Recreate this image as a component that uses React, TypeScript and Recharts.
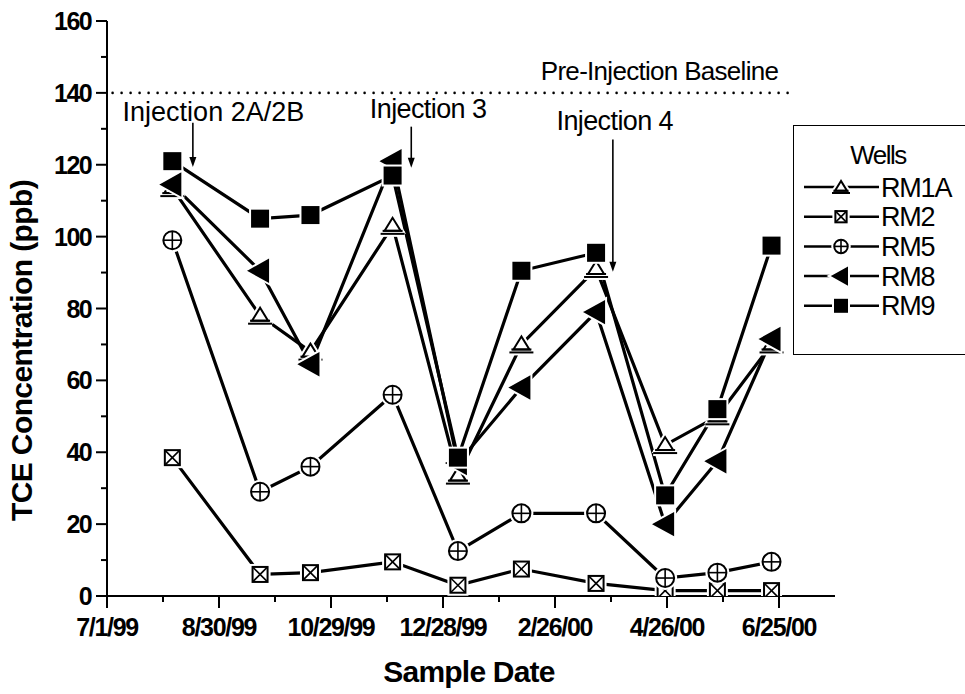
import React from 'react';
import { LineChart, Line, XAxis, YAxis, ReferenceLine, ReferenceDot, Legend } from 'recharts';

// ---- data ----
const sampleDates = ['8/5/99', '9/21/99', '10/18/99', '12/1/99', '1/5/00', '2/8/00', '3/19/00', '4/25/00', '5/23/00', '6/21/00'];
const rm1a = [113.5, 78, 68, 103, 33.5, 70, 91, 42, 50, 70];
const rm2 = [38.5, 6, 6.5, 9.5, 3, 7.5, 3.5, 1.5, 1.5, 1.5];
const rm5 = [99, 29, 36, 56, 12.5, 23, 23, 5, 6.5, 9.5];
const rm8 = [114.5, 90.5, 64.5, 121, 37, 58, 79, 20, 37.5, 71.5];
const rm9 = [121, 105, 106, 117, 38.5, 90.5, 95.5, 28, 52, 97.5];

const xTickLabels = ['7/1/99', '8/30/99', '10/29/99', '12/28/99', '2/26/00', '4/26/00', '6/25/00'];
const yTickValues = [0, 20, 40, 60, 80, 100, 120, 140, 160];
const baselineValue = 140;

const seriesNames = ['RM1A', 'RM2', 'RM5', 'RM8', 'RM9'];
const seriesKeys = ['rm1a', 'rm2', 'rm5', 'rm8', 'rm9'];
const seriesMarkers = ['triUp', 'boxX', 'circlePlus', 'triLeft', 'square'];

// annotations: label position (date, value), arrow (date, from value, to value)
const annotLabels = ['Injection 2A/2B', 'Injection 3', 'Injection 4'];
const annotLabelDates = ['8/27/99', '12/20/99', '3/29/00'];
const annotLabelValues = [132.2, 133, 129.7];
const annotArrowDates = ['8/16/99', '12/11/99', '3/28/00'];
const annotArrowFrom = [131.7, 130.6, 127];
const annotArrowTo = [119.4, 119.2, 90.2];

const FONT = '"Liberation Sans", Arial, Helvetica, sans-serif';

function toDay(s: string): number {
  const [m, d, y] = s.split('/').map(Number);
  const yr = y > 50 ? 1900 + y : 2000 + y;
  return Math.round((Date.UTC(yr, m - 1, d) - Date.UTC(1999, 6, 1)) / 86400000);
}

const rows = sampleDates.map((d, i) => ({
  day: toDay(d),
  rm1a: rm1a[i],
  rm2: rm2[i],
  rm5: rm5[i],
  rm8: rm8[i],
  rm9: rm9[i],
}));

const majorDays = xTickLabels.map(toDay);
const minorDays = majorDays.slice(1).map((d, i) => (d + majorDays[i]) / 2);
const xTicks = [...majorDays, ...minorDays].sort((a, b) => a - b);
const yTicks: number[] = [];
for (let v = 0; v <= 160; v += 10) yTicks.push(v);

function Marker({ type, cx, cy, s = 1 }: { type: string; cx: number; cy: number; s?: number }) {
  const shape = (stroke: string, sw: number, halo: boolean) => {
    switch (type) {
      case 'triUp': {
        const w = 8 * s, top = 8 * s, bot = 5 * s;
        return (
          <g>
            <polygon points={`${cx},${cy - top} ${cx - w},${cy + bot} ${cx + w},${cy + bot}`} fill={halo ? stroke : '#fff'} stroke={stroke} strokeWidth={sw} strokeLinejoin="miter" />
            <line x1={cx - 12 * s} x2={cx + 12 * s} y1={cy + bot + 3 * s} y2={cy + bot + 3 * s} stroke={stroke} strokeWidth={halo ? sw : 2} />
            <line x1={cx - 10 * s} x2={cx + 10 * s} y1={cy + bot} y2={cy + bot} stroke={stroke} strokeWidth={halo ? sw : 2} />
          </g>
        );
      }
      case 'boxX': {
        const h = 7.5 * s;
        return (
          <g>
            <rect x={cx - h} y={cy - h} width={2 * h} height={2 * h} fill={halo ? stroke : '#fff'} stroke={stroke} strokeWidth={sw} />
            {!halo && (
              <g stroke="#000" strokeWidth={1.6}>
                <line x1={cx - h} y1={cy - h} x2={cx + h} y2={cy + h} />
                <line x1={cx - h} y1={cy + h} x2={cx + h} y2={cy - h} />
              </g>
            )}
          </g>
        );
      }
      case 'circlePlus': {
        const r = 9 * s;
        return (
          <g>
            <circle cx={cx} cy={cy} r={r} fill={halo ? stroke : '#fff'} stroke={stroke} strokeWidth={sw} />
            {!halo && (
              <g stroke="#000" strokeWidth={1.6}>
                <line x1={cx - r} y1={cy} x2={cx + r} y2={cy} />
                <line x1={cx} y1={cy - r} x2={cx} y2={cy + r} />
              </g>
            )}
          </g>
        );
      }
      case 'triLeft': {
        return (
          <polygon points={`${cx - 11 * s},${cy} ${cx + 8 * s},${cy - 10.5 * s} ${cx + 8 * s},${cy + 10.5 * s}`} fill={stroke} stroke={stroke} strokeWidth={sw} strokeLinejoin="miter" />
        );
      }
      default: {
        const h = 8 * s;
        return <rect x={cx - h} y={cy - h} width={2 * h} height={2 * h} fill={stroke} stroke={stroke} strokeWidth={sw} />;
      }
    }
  };
  return (
    <g>
      {shape('#fff', 6, true)}
      {shape('#000', 2, false)}
    </g>
  );
}

function XTick(props: any) {
  const { x, y, payload } = props;
  const v = payload.value;
  const idx = majorDays.indexOf(v);
  const major = idx >= 0;
  return (
    <g>
      <line x1={x} x2={x} y1={y} y2={y + (major ? 12 : 6)} stroke="#000" strokeWidth={2} />
      {major && (
        <text x={x} y={y + 40} textAnchor="middle" fontFamily={FONT} fontWeight="bold" fontSize={25} letterSpacing={-1.3} fill="#000">
          {xTickLabels[idx]}
        </text>
      )}
    </g>
  );
}

function YTick(props: any) {
  const { x, y, payload } = props;
  const v = payload.value;
  const major = yTickValues.includes(v);
  return (
    <g>
      <line x1={x - (major ? 11 : 6)} x2={x} y1={y} y2={y} stroke="#000" strokeWidth={2} />
      {major && (
        <text x={x - 16} y={y + 9} textAnchor="end" fontFamily={FONT} fontWeight="bold" fontSize={25} letterSpacing={-1.6} fill="#000">
          {v}
        </text>
      )}
    </g>
  );
}

function ArrowShape(props: any) {
  const { x1, y1, x2, y2 } = props;
  const top = Math.min(y1, y2);
  const bot = Math.max(y1, y2);
  return (
    <g>
      <line x1={x1} x2={x2} y1={top} y2={bot - 6} stroke="#000" strokeWidth={1.6} />
      <polygon points={`${x2},${bot} ${x2 - 3.5},${bot - 10} ${x2 + 3.5},${bot - 10}`} fill="#000" />
    </g>
  );
}

function DottedShape(props: any) {
  const { x1, y1, x2, y2 } = props;
  return <line x1={x1} x2={x2} y1={y1} y2={y2} stroke="#000" strokeWidth={2.6} strokeDasharray="0 9" strokeLinecap="round" />;
}

function LegendBox() {
  return (
    <div style={{ width: 180, height: 230, border: '1.5px solid #000', boxSizing: 'border-box', background: '#fff' }}>
      <svg width={180} height={230} style={{ display: 'block' }}>
        <text x={84} y={38} textAnchor="middle" fontFamily={FONT} fontSize={26} letterSpacing={-1.5} fill="#000">Wells</text>
        {seriesNames.map((n, i) => {
          const cy = 61 + i * 29.7;
          return (
            <g key={n}>
              <line x1={10} x2={85} y1={cy} y2={cy} stroke="#000" strokeWidth={2.5} />
              <Marker type={seriesMarkers[i]} cx={47} cy={cy} s={0.75} />
              <text x={87} y={cy + 9.5} fontFamily={FONT} fontSize={27} letterSpacing={-1.2} fill="#000">{n}</text>
            </g>
          );
        })}
      </svg>
    </div>
  );
}

export default function App() {
  return (
    <div style={{ position: 'absolute', left: 0, top: 0, width: 965, height: 694, overflow: 'hidden', background: '#fff' }}>
      <LineChart width={965} height={694} data={rows} margin={{ top: 21, right: 130, bottom: 48, left: 47 }}>
        <XAxis
          type="number"
          dataKey="day"
          domain={[0, 390]}
          ticks={xTicks}
          interval={0}
          tick={XTick}
          tickLine={false}
          tickSize={0}
          tickMargin={0}
          axisLine={{ stroke: '#000', strokeWidth: 2 }}
          height={50}
          allowDataOverflow
          label={{
            content: (p: any) => {
              const vb = p.viewBox;
              return (
                <text x={vb.x + vb.width / 2 - 2} y={vb.y + 86} textAnchor="middle" fontFamily={FONT} fontWeight="bold" fontSize={30} letterSpacing={-0.8} fill="#000">
                  Sample Date
                </text>
              );
            },
          }}
        />
        <YAxis
          type="number"
          domain={[0, 160]}
          ticks={yTicks}
          interval={0}
          tick={YTick}
          tickLine={false}
          tickSize={0}
          tickMargin={0}
          axisLine={{ stroke: '#000', strokeWidth: 2 }}
          width={60}
          allowDataOverflow
          label={{
            content: (p: any) => {
              const vb = p.viewBox;
              const cx = vb.x - 15;
              const cy = vb.y + vb.height / 2 + 42;
              return (
                <text x={cx} y={cy} transform={`rotate(-90 ${cx} ${cy})`} textAnchor="middle" fontFamily={FONT} fontWeight="bold" fontSize={30} letterSpacing={-0.6} fill="#000">
                  TCE Concentration (ppb)
                </text>
              );
            },
          }}
        />
        <ReferenceLine segment={[{ x: 3, y: baselineValue }, { x: 367, y: baselineValue }]} shape={DottedShape} />
        <ReferenceDot
          x={296}
          y={143.6}
          r={0}
          shape={(p: any) => (
            <text x={p.cx} y={p.cy} textAnchor="middle" fontFamily={FONT} fontSize={26} letterSpacing={-0.7} fill="#000">
              Pre-Injection Baseline
            </text>
          )}
        />
        {annotLabels.map((lab, i) => (
          <ReferenceLine
            key={'a' + i}
            segment={[{ x: toDay(annotArrowDates[i]), y: annotArrowFrom[i] }, { x: toDay(annotArrowDates[i]), y: annotArrowTo[i] }]}
            shape={ArrowShape}
          />
        ))}
        {annotLabels.map((lab, i) => (
          <ReferenceDot
            key={'t' + i}
            x={toDay(annotLabelDates[i])}
            y={annotLabelValues[i]}
            r={0}
            shape={(p: any) => (
              <text x={p.cx} y={p.cy} textAnchor="middle" fontFamily={FONT} fontSize={27} letterSpacing={i === 0 ? 0 : -0.6} fill="#000">
                {lab}
              </text>
            )}
          />
        ))}
        {seriesKeys.map((k, i) => (
          <Line
            key={k}
            dataKey={k}
            name={seriesNames[i]}
            stroke="#000"
            strokeWidth={3.2}
            isAnimationActive={false}
            activeDot={false}
            dot={(p: any) => <Marker key={k + p.index} type={seriesMarkers[i]} cx={p.cx} cy={p.cy} />}
          />
        ))}
        <Legend
          layout="vertical"
          align="center"
          verticalAlign="middle"
          content={() => <LegendBox />}
          wrapperStyle={{ position: 'absolute', left: 793, top: 125, width: 180, height: 230 }}
        />
      </LineChart>
    </div>
  );
}
